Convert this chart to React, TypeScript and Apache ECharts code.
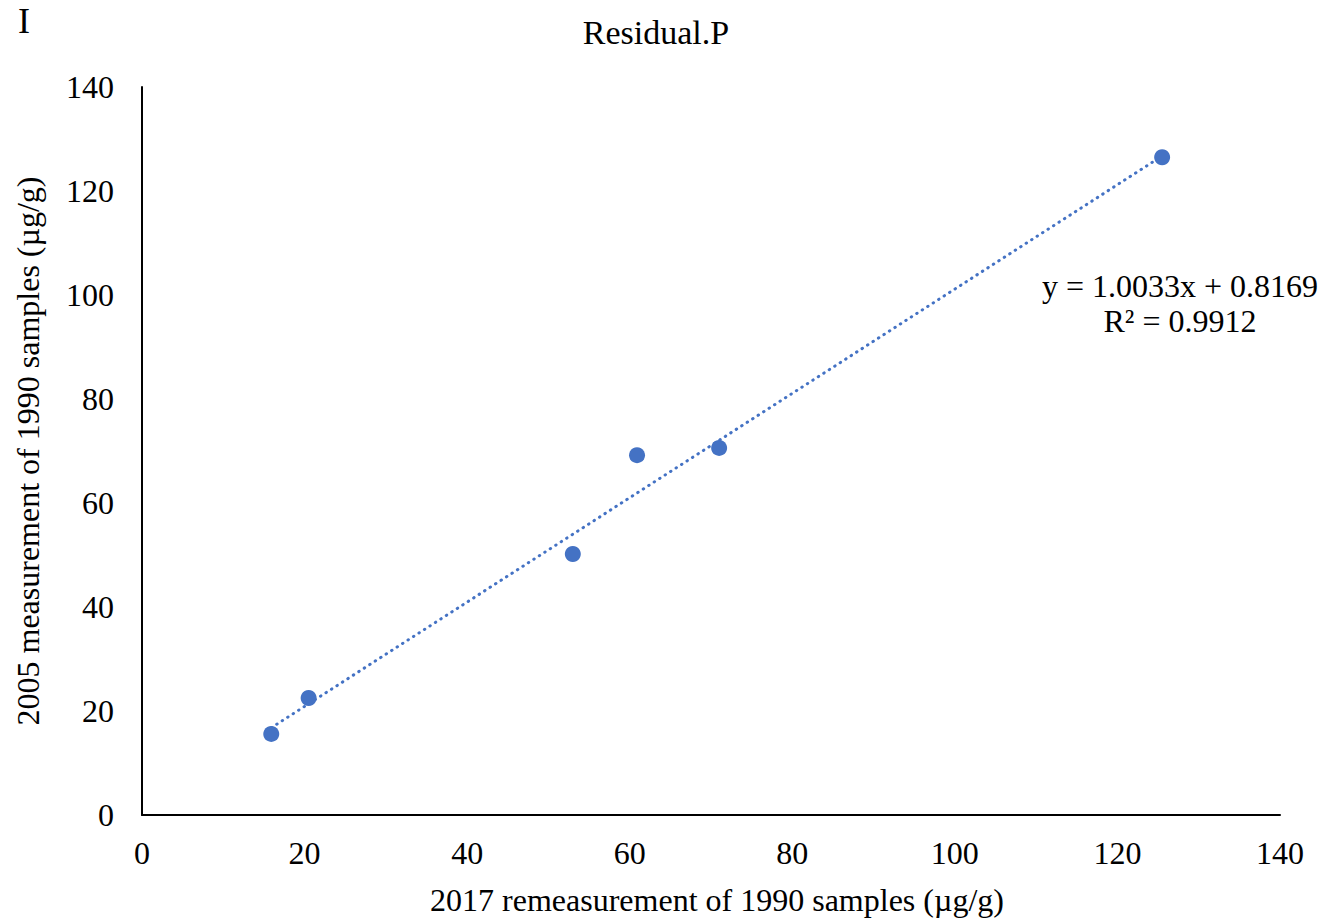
import React, { useEffect, useRef } from "react";
import * as echarts from "echarts";

const xValues = [15.9, 20.5, 53.0, 60.9, 71.0, 125.5];
const yValues = [15.6, 22.5, 50.2, 69.2, 70.6, 126.5];
const slope = 1.0033;
const intercept = 0.8169;
const equationText = "y = 1.0033x + 0.8169";
const r2Text = "R² = 0.9912";
const titleText = "Residual.P";
const panelLabel = "I";
const xAxisName = "2017 remeasurement of 1990 samples (µg/g)";
const yAxisName = "2005 measurement of 1990 samples (µg/g)";

export default function App() {
  const ref = useRef<HTMLDivElement>(null);
  useEffect(() => {
    if (!ref.current) return;
    const chart = echarts.init(ref.current, null, { renderer: "svg" });
    const xmin = Math.min(...xValues);
    const xmax = Math.max(...xValues);
    const trend = [
      [xmin, slope * xmin + intercept],
      [xmax, slope * xmax + intercept],
    ];
    const font = "'Liberation Serif', 'Times New Roman', serif";
    chart.setOption({
      animation: false,
      backgroundColor: "#ffffff",
      textStyle: { fontFamily: font },
      title: {
        text: titleText,
        left: 651,
        top: 10,
        textAlign: "center",
        textStyle: { fontFamily: font, fontSize: 34, fontWeight: "normal", color: "#000" },
      },
      graphic: [
        {
          type: "text",
          left: 18,
          top: 3,
          style: { text: panelLabel, font: `36px ${font}`, fill: "#000" },
        },
        {
          type: "text",
          x: 1180,
          y: 286,
          style: {
            text: equationText,
            font: `32px ${font}`,
            fill: "#000",
            textAlign: "center",
            textVerticalAlign: "middle",
          },
        },
        {
          type: "text",
          x: 1180,
          y: 321,
          style: {
            text: r2Text,
            font: `32px ${font}`,
            fill: "#000",
            textAlign: "center",
            textVerticalAlign: "middle",
          },
        },
      ],
      grid: { left: 142, right: 45, top: 87, bottom: 107, containLabel: false },
      xAxis: {
        type: "value",
        min: 0,
        max: 140,
        interval: 20,
        name: xAxisName,
        nameLocation: "middle",
        nameGap: 69,
        nameTextStyle: { fontFamily: font, fontSize: 32, color: "#000", padding: [0, 0, 0, 12] },
        axisLine: { show: true, lineStyle: { color: "#000", width: 2 } },
        axisTick: { show: false },
        splitLine: { show: false },
        axisLabel: { fontFamily: font, fontSize: 32, color: "#000", margin: 22 },
      },
      yAxis: {
        type: "value",
        min: 0,
        max: 140,
        interval: 20,
        name: yAxisName,
        nameLocation: "middle",
        nameGap: 98,
        nameTextStyle: { fontFamily: font, fontSize: 32, color: "#000" },
        axisLine: { show: true, lineStyle: { color: "#000", width: 2 } },
        axisTick: { show: false },
        splitLine: { show: false },
        axisLabel: { fontFamily: font, fontSize: 32, color: "#000", margin: 28 },
      },
      series: [
        {
          type: "line",
          data: trend,
          showSymbol: false,
          symbol: "none",
          lineStyle: { color: "#4472C4", width: 3, type: [0.5, 6], cap: "round" },
          z: 1,
        },
        {
          type: "scatter",
          data: xValues.map((x, i) => [x, yValues[i]]),
          symbolSize: 16,
          itemStyle: { color: "#4472C4", opacity: 1 },
          z: 2,
        },
      ],
    });
    return () => chart.dispose();
  }, []);
  return (
    <div
      ref={ref}
      style={{ position: "absolute", left: 0, top: 0, width: 1325, height: 922 }}
    />
  );
}
